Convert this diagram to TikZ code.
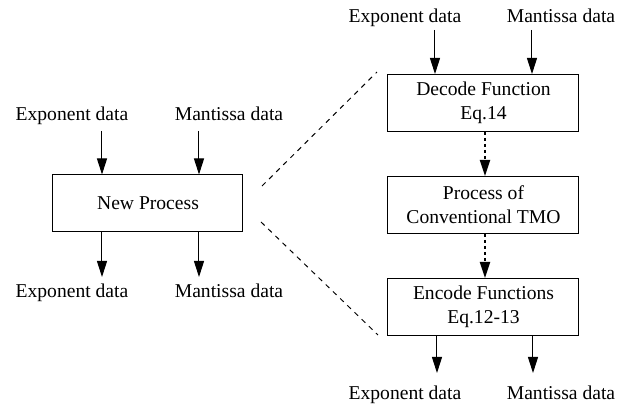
\documentclass[tikz,border=0pt]{standalone}
\usepackage{fontspec}
\setmainfont{LiberationSerif}[Extension=.ttf, UprightFont=*-Regular, BoldFont=*-Bold]
\usetikzlibrary{arrows.meta, positioning}

\tikzset{
    procbox/.style={draw, line width=0.5pt, align=center, inner sep=0pt,
        minimum width=95.5pt, minimum height=28.5pt},
    datalabel/.style={anchor=base, inner sep=0pt},
    dataflow/.style={line width=0.5pt, -{Triangle[length=8pt, width=5pt]}},
    innerflow/.style={line width=1pt, dash pattern=on 1.5pt off 1.5pt,
        -{Triangle[length=8pt, width=5pt]}},
    zoomline/.style={line width=0.5pt, dash pattern=on 2.5pt off 2.5pt}
}

\begin{document}
\begin{tikzpicture}[x=0.5pt, y=-0.5pt, font=\fontsize{9.8}{12}\selectfont]
            \useasboundingbox (0,0) rectangle (629,407);
            % left: the new process as one block
            \node[procbox, minimum width=95pt] (np) at (148,203.5) {New Process};
            \node[datalabel] (inE) at (72,120) {Exponent data};
            \node[datalabel] (inM) at (229,120) {Mantissa data};
            \node[datalabel] (outE) at (72,298) {Exponent data};
            \node[datalabel] (outM) at (229,298) {Mantissa data};
            \draw[dataflow] (102,131) -- (np.north -| 102,0);
            \draw[dataflow] (199,131) -- (np.north -| 199,0);
            \draw[dataflow] (np.south -| 102,0) -- (102,277);
            \draw[dataflow] (np.south -| 199,0) -- (199,277);
            % right: the same process opened up
            \node[procbox] (dec) at (483.5,103) {Decode Function\\Eq.14};
            \node[procbox] (tmo) at (483.5,205) {Process of\\Conventional TMO};
            \node[procbox] (enc) at (483.5,307) {Encode Functions\\Eq.12-13};
            \node[datalabel] (decE) at (405,23) {Exponent data};
            \node[datalabel] (decM) at (561,23) {Mantissa data};
            \node[datalabel] (encE) at (405,400) {Exponent data};
            \node[datalabel] (encM) at (561,400) {Mantissa data};
            \draw[dataflow] (435,30) -- (dec.north -| 435,0);
            \draw[dataflow] (532,30) -- (dec.north -| 532,0);
            \draw[innerflow] (dec.south -| 485,0) -- (tmo.north -| 485,0);
            \draw[innerflow] (tmo.south -| 485,0) -- (enc.north -| 485,0);
            \draw[dataflow] (enc.south -| 437,0) -- (437,373);
            \draw[dataflow] (enc.south -| 533,0) -- (533,373);
            % zoom lines
            \coordinate (zu1) at (262,186);
            \coordinate (zu2) at (377,72);
            \coordinate (zl1) at (261,222);
            \coordinate (zl2) at (378,335);
            \draw[zoomline] (zu1) -- (zu2);
            \draw[zoomline] (zl1) -- (zl2);
\end{tikzpicture}
\end{document}
